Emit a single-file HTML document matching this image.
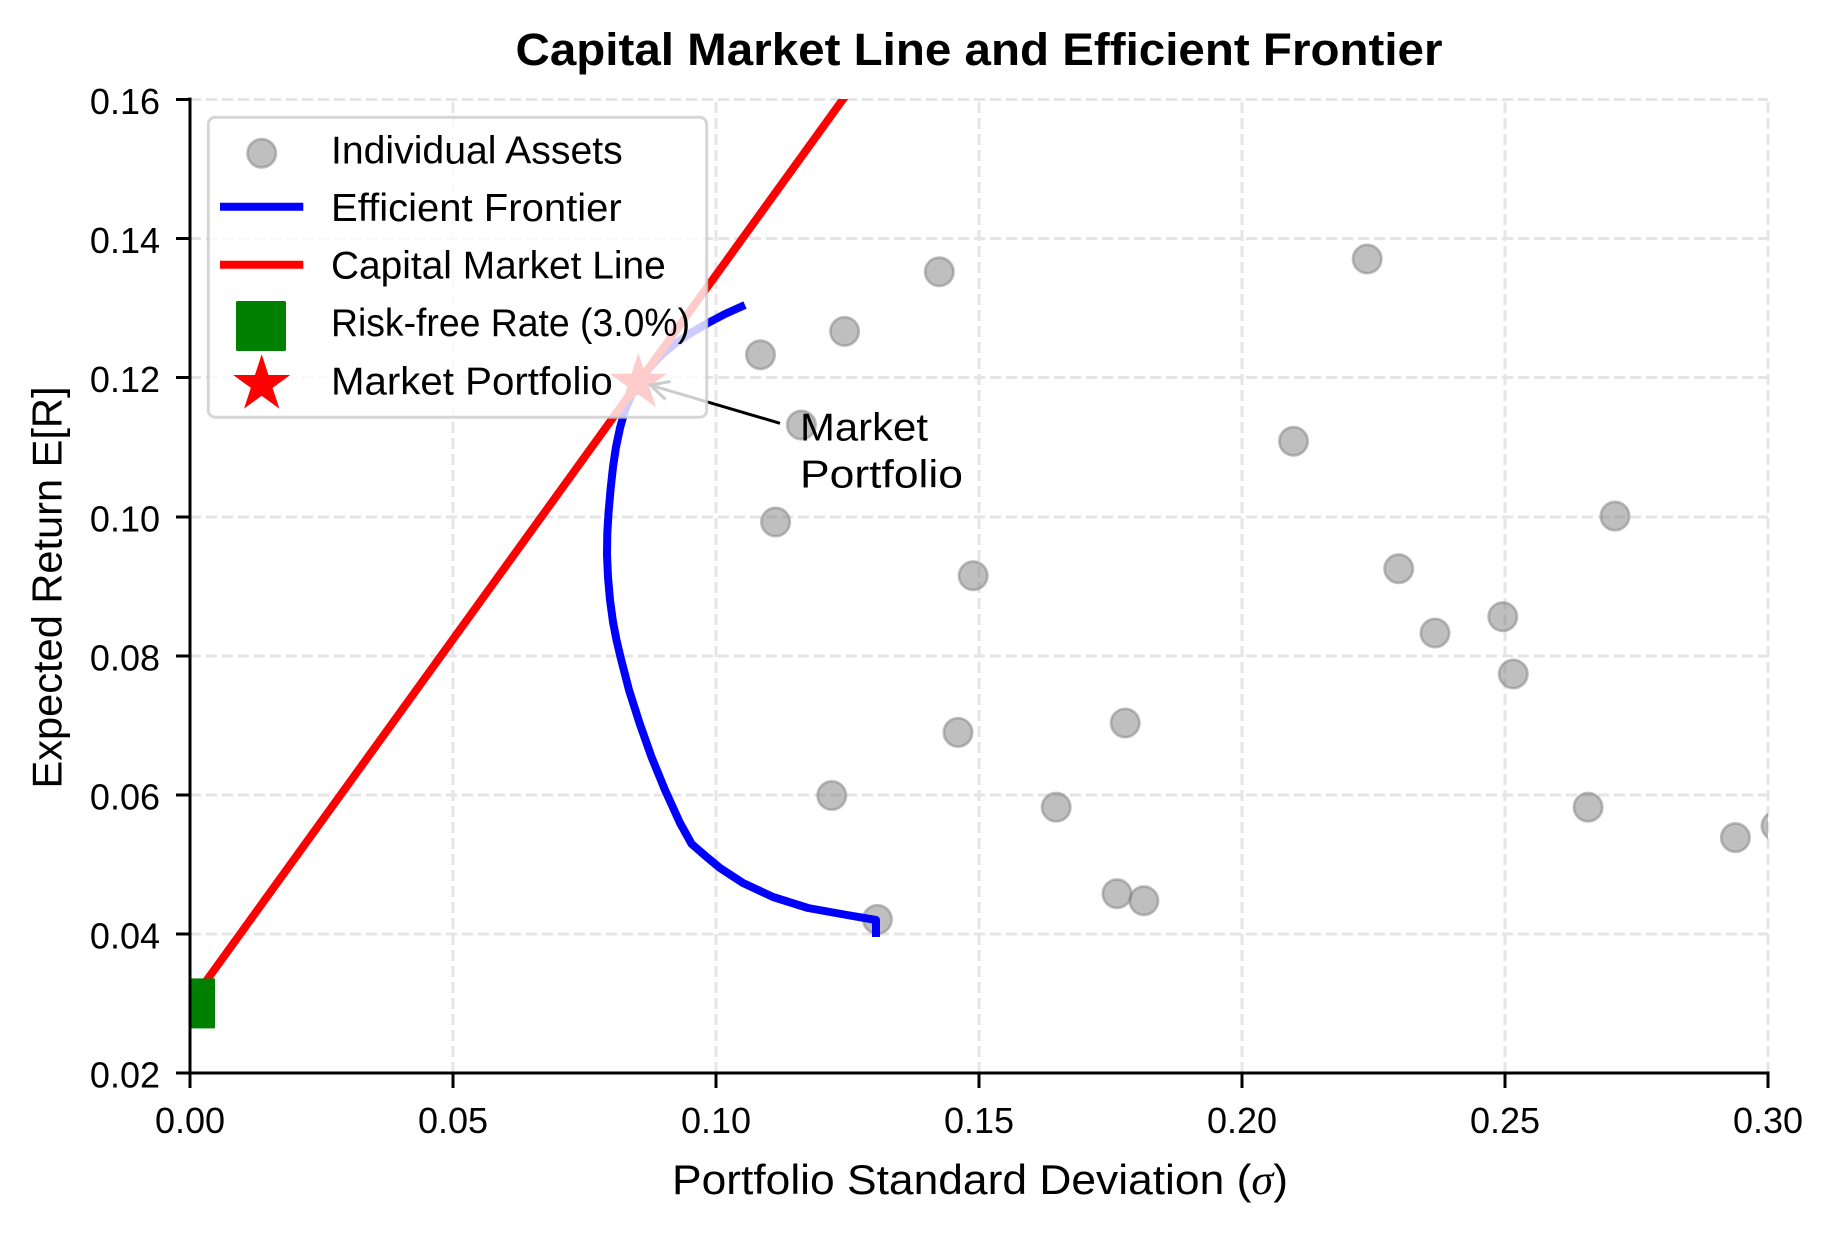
<!DOCTYPE html>
<html>
<head>
<meta charset="utf-8">
<style>
  html,body{margin:0;padding:0;background:#fff;}
  svg{display:block;}
  text{font-family:"Liberation Sans", "DejaVu Sans", sans-serif; fill:#000;}
</style>
</head>
<body>
<svg width="1834" height="1234" viewBox="0 0 1834 1234" xmlns="http://www.w3.org/2000/svg">
  <defs>
    <clipPath id="ax"><rect x="190" y="99" width="1578" height="974"/></clipPath>
  </defs>
  <rect x="0" y="0" width="1834" height="1234" fill="#ffffff"/>

  <!-- Title -->
  <text x="979" y="65" font-size="45" font-weight="bold" text-anchor="middle" textLength="927" lengthAdjust="spacingAndGlyphs">Capital Market Line and Efficient Frontier</text>

  <!-- Grid -->
  <g stroke="#e5e5e5" stroke-width="3" stroke-dasharray="11 5" fill="none">
    <line x1="453" y1="1073" x2="453" y2="99"/>
    <line x1="716" y1="1073" x2="716" y2="99"/>
    <line x1="979" y1="1073" x2="979" y2="99"/>
    <line x1="1242" y1="1073" x2="1242" y2="99"/>
    <line x1="1505" y1="1073" x2="1505" y2="99"/>
    <line x1="1768" y1="1073" x2="1768" y2="99"/>
    <line x1="190" y1="934" x2="1768" y2="934"/>
    <line x1="190" y1="795" x2="1768" y2="795"/>
    <line x1="190" y1="656" x2="1768" y2="656"/>
    <line x1="190" y1="517" x2="1768" y2="517"/>
    <line x1="190" y1="377.5" x2="1768" y2="377.5"/>
    <line x1="190" y1="238.5" x2="1768" y2="238.5"/>
    <line x1="190" y1="99.5" x2="1768" y2="99.5"/>
  </g>

  <g clip-path="url(#ax)">
    <!-- Individual assets -->
    <g fill="#808080" fill-opacity="0.5" stroke="#808080" stroke-opacity="0.5" stroke-width="2.7">
      <circle cx="1367.2" cy="259.0" r="14.2"/>
      <circle cx="939.3" cy="271.8" r="14.2"/>
      <circle cx="844.6" cy="331.4" r="14.2"/>
      <circle cx="760.5" cy="354.8" r="14.2"/>
      <circle cx="801.4" cy="425.0" r="14.2"/>
      <circle cx="1293.5" cy="441.3" r="14.2"/>
      <circle cx="1615.0" cy="516.1" r="14.2"/>
      <circle cx="775.6" cy="522.0" r="14.2"/>
      <circle cx="973.2" cy="575.7" r="14.2"/>
      <circle cx="1398.7" cy="568.7" r="14.2"/>
      <circle cx="1502.8" cy="616.7" r="14.2"/>
      <circle cx="1435.0" cy="633.0" r="14.2"/>
      <circle cx="1513.3" cy="674.0" r="14.2"/>
      <circle cx="1125.2" cy="723.0" r="14.2"/>
      <circle cx="958.0" cy="732.4" r="14.2"/>
      <circle cx="831.8" cy="795.5" r="14.2"/>
      <circle cx="1056.2" cy="807.2" r="14.2"/>
      <circle cx="1588.1" cy="807.2" r="14.2"/>
      <circle cx="1735.4" cy="837.6" r="14.2"/>
      <circle cx="1776.0" cy="826.0" r="14.2"/>
      <circle cx="1117.0" cy="893.7" r="14.2"/>
      <circle cx="1143.9" cy="900.7" r="14.2"/>
      <circle cx="877.4" cy="919.4" r="14.2"/>
    </g>

    <!-- Efficient frontier -->
    <polyline fill="none" stroke="#0000ff" stroke-width="8" stroke-linejoin="round" stroke-linecap="butt"
      points="745,305 725,314 707,323.5 690,333.5 676,343 663,353.5 651,366 640,380 632,394 625,410 620,428 616,447 613,467 610.5,490 608.5,513 607.3,533 607,555 608,577 610,600 613,622 616.5,640 620.5,657 629,690 639.5,723 651.5,757 665,790 680,823 691.7,844 706.7,857 720,868 743,883 773,897 808,908 847,915 876,920 876,937"/>

    <!-- Capital market line -->
    <line x1="190" y1="1003.4" x2="880" y2="48" stroke="#ff0000" stroke-width="8"/>

    <!-- Risk-free square -->
    <rect x="165" y="978.4" width="50" height="50" fill="#008000"/>

    <!-- Market portfolio star -->
    <path transform="translate(638.3,383)" fill="#ff0000" stroke="#ff0000" stroke-width="1.5" stroke-linejoin="miter"
      d="M0,-27.6 L6.2,-8.53 L26.25,-8.53 L10.02,3.26 L16.22,22.33 L0,10.54 L-16.22,22.33 L-10.02,3.26 L-26.25,-8.53 L-6.2,-8.53 Z"/>
  </g>

  <!-- Annotation -->
  <g stroke="#000" stroke-width="3" fill="none" stroke-linecap="butt" stroke-linejoin="miter">
    <line x1="780" y1="423.3" x2="651" y2="385.3"/>
    <polyline points="670.5,381.5 650.5,385 665.5,399.5"/>
  </g>
  <text x="800" y="440.7" font-size="39" textLength="128" lengthAdjust="spacingAndGlyphs">Market</text>
  <text x="800" y="487.3" font-size="39" textLength="163" lengthAdjust="spacingAndGlyphs">Portfolio</text>

  <!-- Spines -->
  <g stroke="#000" stroke-width="3" fill="none">
    <line x1="190" y1="97.5" x2="190" y2="1074.5"/>
    <line x1="188.5" y1="1073" x2="1769.5" y2="1073"/>
    <!-- y ticks -->
    <line x1="176" y1="1073" x2="190" y2="1073"/>
    <line x1="176" y1="934" x2="190" y2="934"/>
    <line x1="176" y1="795" x2="190" y2="795"/>
    <line x1="176" y1="656" x2="190" y2="656"/>
    <line x1="176" y1="517" x2="190" y2="517"/>
    <line x1="176" y1="377.5" x2="190" y2="377.5"/>
    <line x1="176" y1="238.5" x2="190" y2="238.5"/>
    <line x1="176" y1="99.5" x2="190" y2="99.5"/>
    <!-- x ticks -->
    <line x1="190" y1="1073" x2="190" y2="1088"/>
    <line x1="453" y1="1073" x2="453" y2="1088"/>
    <line x1="716" y1="1073" x2="716" y2="1088"/>
    <line x1="979" y1="1073" x2="979" y2="1088"/>
    <line x1="1242" y1="1073" x2="1242" y2="1088"/>
    <line x1="1505" y1="1073" x2="1505" y2="1088"/>
    <line x1="1768" y1="1073" x2="1768" y2="1088"/>
  </g>

  <!-- Y tick labels -->
  <g font-size="36" text-anchor="end">
    <text x="160" y="1087.5">0.02</text>
    <text x="160" y="948.5">0.04</text>
    <text x="160" y="809.5">0.06</text>
    <text x="160" y="670.5">0.08</text>
    <text x="160" y="531.5">0.10</text>
    <text x="160" y="392">0.12</text>
    <text x="160" y="253">0.14</text>
    <text x="160" y="114">0.16</text>
  </g>
  <!-- X tick labels -->
  <g font-size="36" text-anchor="middle">
    <text x="190" y="1133">0.00</text>
    <text x="453" y="1133">0.05</text>
    <text x="716" y="1133">0.10</text>
    <text x="979" y="1133">0.15</text>
    <text x="1242" y="1133">0.20</text>
    <text x="1505" y="1133">0.25</text>
    <text x="1768" y="1133">0.30</text>
  </g>

  <!-- Axis labels -->
  <text x="980" y="1194" font-size="42" text-anchor="middle" textLength="616" lengthAdjust="spacingAndGlyphs">Portfolio Standard Deviation (<tspan font-style="italic" font-family="Liberation Serif, serif">σ</tspan>)</text>
  <text transform="translate(61.7,587.5) rotate(-90)" font-size="42" text-anchor="middle" textLength="402" lengthAdjust="spacingAndGlyphs">Expected Return E[R]</text>

  <!-- Legend -->
  <rect x="208.3" y="117.3" width="498.4" height="300" rx="7" ry="7" fill="#ffffff" fill-opacity="0.8" stroke="#cccccc" stroke-opacity="0.8" stroke-width="3"/>
  <circle cx="261.7" cy="153.3" r="14.2" fill="#808080" fill-opacity="0.5" stroke="#808080" stroke-opacity="0.5" stroke-width="2.7"/>
  <line x1="220" y1="206.7" x2="303.3" y2="206.7" stroke="#0000ff" stroke-width="8"/>
  <line x1="220" y1="264.7" x2="303.3" y2="264.7" stroke="#ff0000" stroke-width="8"/>
  <rect x="236" y="301" width="50" height="50" rx="1.5" fill="#008000"/>
  <path transform="translate(261.7,384.3)" fill="#ff0000" stroke="#ff0000" stroke-width="1.5"
    d="M0,-27.6 L6.2,-8.53 L26.25,-8.53 L10.02,3.26 L16.22,22.33 L0,10.54 L-16.22,22.33 L-10.02,3.26 L-26.25,-8.53 L-6.2,-8.53 Z"/>
  <g font-size="39">
    <text x="331" y="163.5" textLength="291.7" lengthAdjust="spacingAndGlyphs">Individual Assets</text>
    <text x="331" y="221.2" textLength="290.7" lengthAdjust="spacingAndGlyphs">Efficient Frontier</text>
    <text x="331" y="278.7" textLength="334.7" lengthAdjust="spacingAndGlyphs">Capital Market Line</text>
    <text x="331" y="336.2" textLength="359" lengthAdjust="spacingAndGlyphs">Risk-free Rate (3.0%)</text>
    <text x="331" y="394.5" textLength="281.7" lengthAdjust="spacingAndGlyphs">Market Portfolio</text>
  </g>
</svg>
</body>
</html>
